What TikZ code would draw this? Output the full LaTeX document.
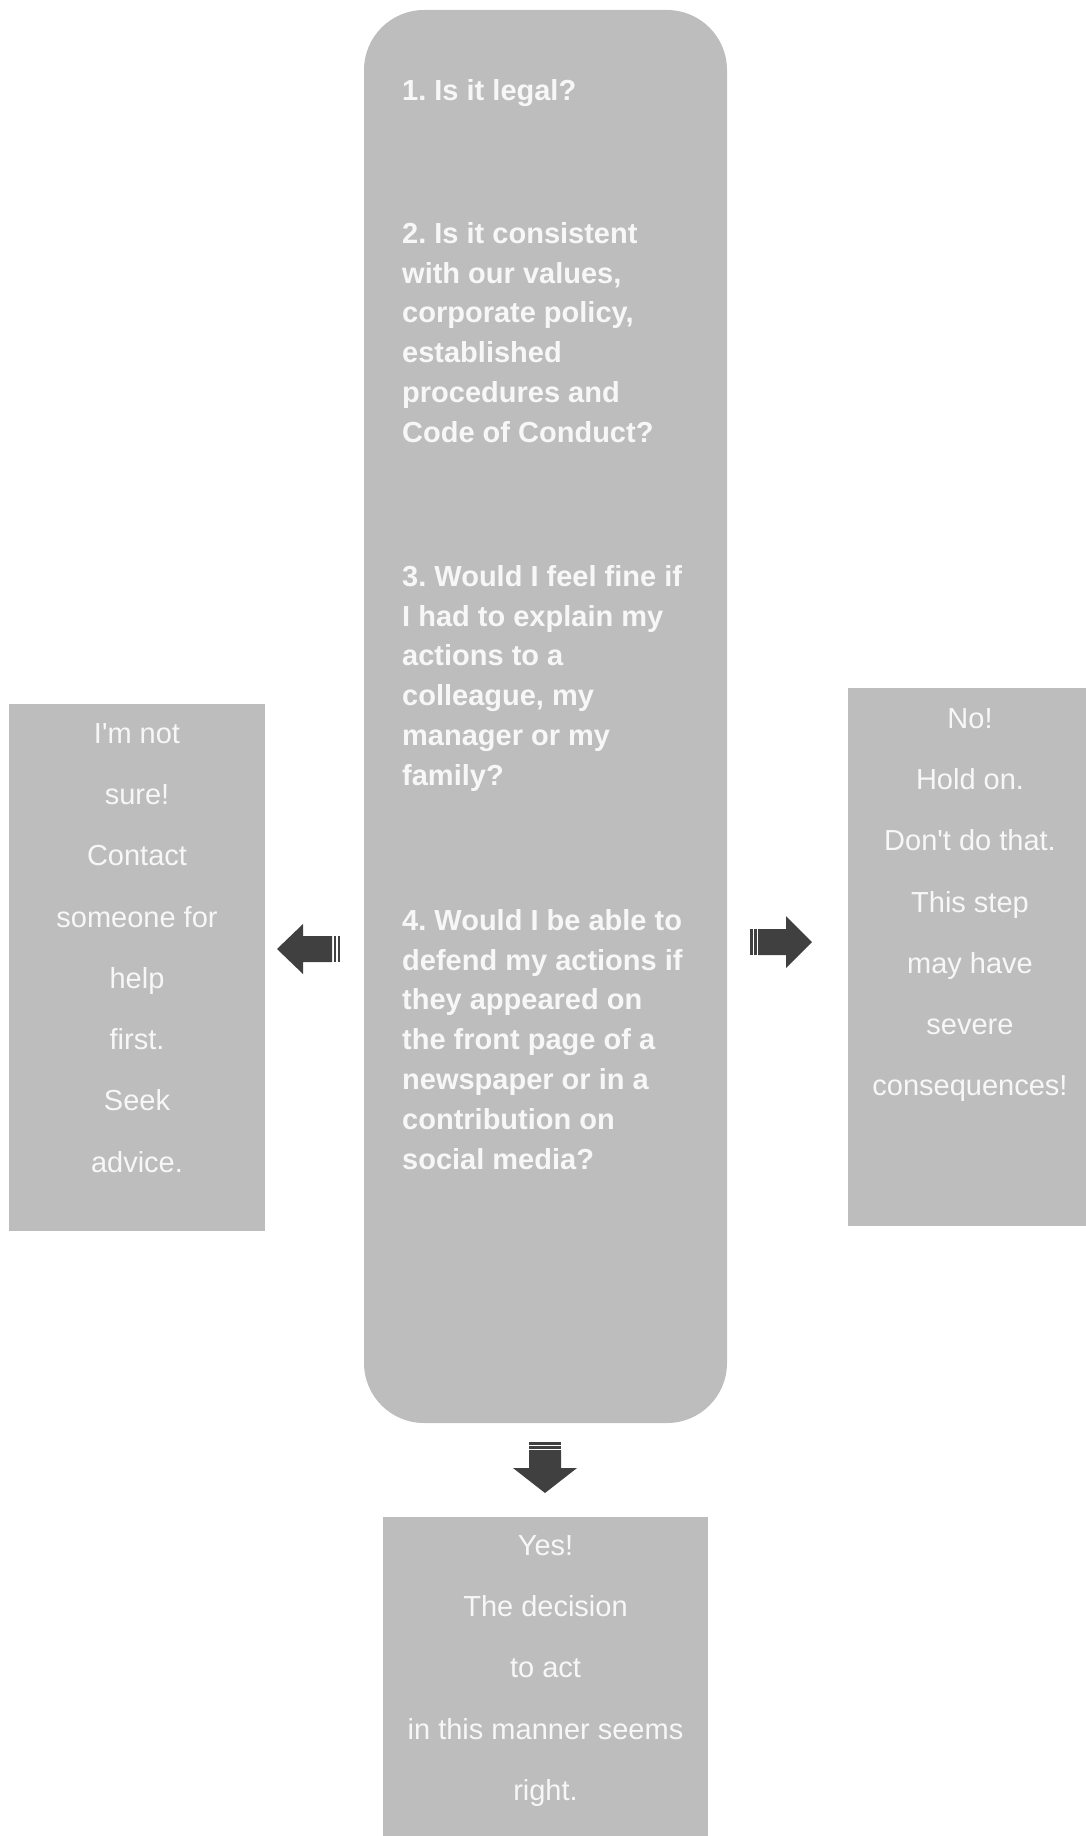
\documentclass[tikz,border=0pt]{standalone}
\usepackage{fontspec}
\setmainfont{Liberation Sans}[Ligatures=TeXOff]
\definecolor{boxgray}{HTML}{BDBDBD}
\definecolor{txt}{HTML}{F7F7F7}
\definecolor{arrowgray}{HTML}{404040}
\begin{document}
\frenchspacing
\begin{tikzpicture}[x=1pt,y=-1pt,
  box/.style={fill=boxgray, draw=none, inner sep=0, minimum width=#1},
  qtext/.style={text=txt, font=\fontsize{29}{39.8}\selectfont\bfseries, align=left, inner sep=0, anchor=north west},
  side/.style={text=txt, font=\fontsize{29}{61.3}\selectfont, align=center, inner sep=0, anchor=north},
  blockarrow/.style={fill=arrowgray, draw=none}]
\useasboundingbox (0,0) rectangle (1086,1836);
% boxes
\node[box=363, minimum height=1413, rounded corners=60] (main) at (545.5,716.5) {};
\node[box=256, minimum height=527] (unsure) at (137,967.5) {};
\node[box=238, minimum height=538] (no) at (967,957) {};
\node[box=325, minimum height=319] (yes) at (545.5,1676.5) {};
% questions
\node[qtext] (q1) at (402,79) {1. Is it legal?};
\node[qtext] (q2) at (402,222) {2. Is it consistent\\with our values,\\corporate policy,\\established\\procedures and\\Code of Conduct?};
\node[qtext] (q3) at (402,565) {3. Would I feel fine if\\I had to explain my\\actions to a\\colleague, my\\manager or my\\family?};
\node[qtext] (q4) at (402,909) {4. Would I be able to\\defend my actions if\\they appeared on\\the front page of a\\newspaper or in a\\contribution on\\social media?};
% side texts
\node[side] (tunsure) at (137,723) {I'm not\\sure!\\Contact\\someone for\\help\\first.\\Seek\\advice.};
\node[side] (tno) at (970,708) {No!\\Hold on.\\Don't do that.\\This step\\may have\\severe\\consequences!};
\node[side] (tyes) at (545.5,1535) {Yes!\\The decision\\to act\\in this manner seems\\right.};
% left arrow
\fill[blockarrow] (277,949) -- (303,924) -- (303,936) -- (332,936) -- (332,962) -- (303,962) -- (303,974) -- cycle;
\fill[blockarrow] (333.5,936) rectangle (336,962);
\fill[blockarrow] (337.5,936) rectangle (340,962);
% right arrow
\fill[blockarrow] (812,942) -- (786,916) -- (786,929) -- (758,929) -- (758,955) -- (786,955) -- (786,968) -- cycle;
\fill[blockarrow] (750,929) rectangle (752.5,955);
\fill[blockarrow] (754,929) rectangle (756.5,955);
% down arrow
\fill[blockarrow] (545,1493) -- (513,1468) -- (529,1468) -- (529,1450) -- (561,1450) -- (561,1468) -- (577,1468) -- cycle;
\fill[blockarrow] (529,1442) rectangle (561,1444.5);
\fill[blockarrow] (529,1446) rectangle (561,1448.5);
\end{tikzpicture}
\end{document}
